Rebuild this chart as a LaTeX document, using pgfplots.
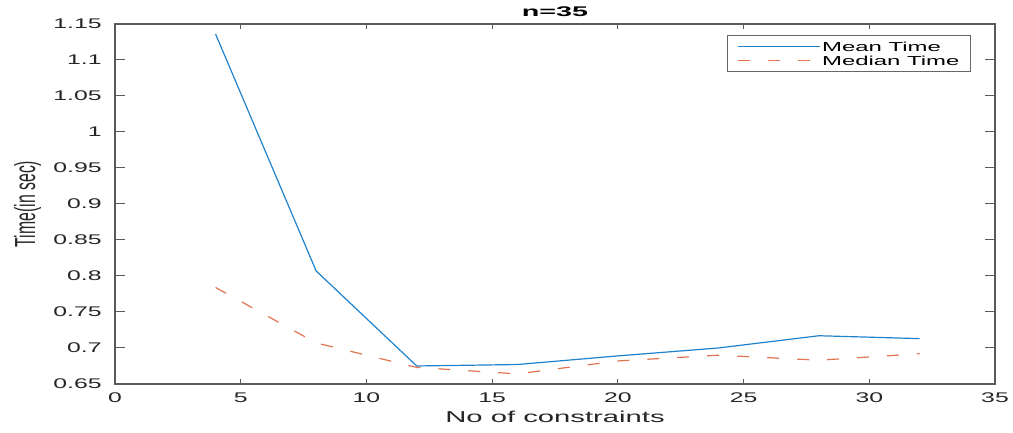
\documentclass[border=0pt]{standalone}
\usepackage{pgfplots}
\pgfplotsset{compat=1.18}
\usepackage{fontspec}
\setmainfont{Liberation Sans}[FakeStretch=1.77]
\newfontfamily\legfont{Liberation Sans}[FakeStretch=1.84]
\newfontfamily\ylabfont{Liberation Sans}[FakeStretch=0.545]
\newfontfamily\xlabfont{Liberation Sans}[FakeStretch=1.85]
\newfontfamily\titfont{Liberation Sans}[FakeStretch=2.05]
\definecolor{meanc}{RGB}{30,130,205}
\definecolor{medc}{RGB}{225,115,80}
\definecolor{axc}{RGB}{90,90,90}
\begin{document}
\begin{tikzpicture}
\begin{axis}[
  name=ax,
  scale only axis,
  width=440pt, height=180pt,
  xmin=0, xmax=35, ymin=0.65, ymax=1.15,
  xtick={0,5,10,15,20,25,30,35},
  ytick={0.65,0.7,0.75,0.8,0.85,0.9,0.95,1,1.05,1.1,1.15},
  yticklabels={0.65,0.7,0.75,0.8,0.85,0.9,0.95,1,1.05,1.1,1.15},
  tick pos=both, tick align=inside,
  xtick style={/pgfplots/major tick length=2.5pt, axc, line width=0.5pt},
  ytick style={/pgfplots/major tick length=5pt, axc, line width=0.5pt},
  axis line style={axc, line width=0.6pt},
  /pgf/number format/assume math mode=true,
  tick label style={font=\fontsize{7pt}{8pt}\selectfont, text=black!85},
  xticklabel style={anchor=base, inner sep=0pt, yshift=-9.5pt},
  yticklabel style={anchor=east, inner sep=0pt, xshift=-6.5pt},
  xlabel={No of constraints},
  xlabel style={at={(axis description cs:0.5,-0.1083)}, anchor=base, inner sep=0pt, font=\xlabfont\fontsize{7.9pt}{9pt}\selectfont, text=black!85},
  ylabel={Time(in sec)},
  ylabel style={at={(axis description cs:-0.0994,0.5)}, anchor=center, inner sep=0pt, font=\ylabfont\fontsize{14.5pt}{16pt}\selectfont, text=black!85},
  title={n=35},
  every axis title shift=0pt,
  title style={at={(axis description cs:0.5,1.0203)}, anchor=base, inner sep=0pt, font=\titfont\bfseries\fontsize{7pt}{8pt}\selectfont},
  legend style={at={(axis description cs:0.9727,0.9694)}, anchor=north east,
    draw=black!60, line width=0.5pt, fill=white,
    font=\legfont\fontsize{6.5pt}{7pt}\selectfont,
    inner xsep=4.5pt, inner ysep=2.2pt, row sep=0.2pt,
    nodes={inner sep=1pt, text height=4.8pt, text depth=0pt}},
  legend cell align=left,
  legend image code/.code={\draw[#1] (0pt,0pt) -- (41pt,0pt);},
]
\addplot[meanc, line width=0.6pt] coordinates {
 (4,1.136) (8,0.807) (12,0.675) (16,0.677) (20,0.689) (24,0.700) (28,0.717) (32,0.713)};
\addlegendentry{Mean Time}
\addplot[medc, line width=0.6pt, dash pattern=on 6pt off 9pt] coordinates {
 (4,0.784) (8,0.707) (12,0.673) (16,0.664) (20,0.682) (24,0.690) (28,0.683) (32,0.692)};
\addlegendentry{Median Time}
\end{axis}
\path ([shift={(-57.5pt,-24.5pt)}]ax.south west) rectangle ([shift={(9pt,12pt)}]ax.north east);
\end{tikzpicture}
\end{document}
